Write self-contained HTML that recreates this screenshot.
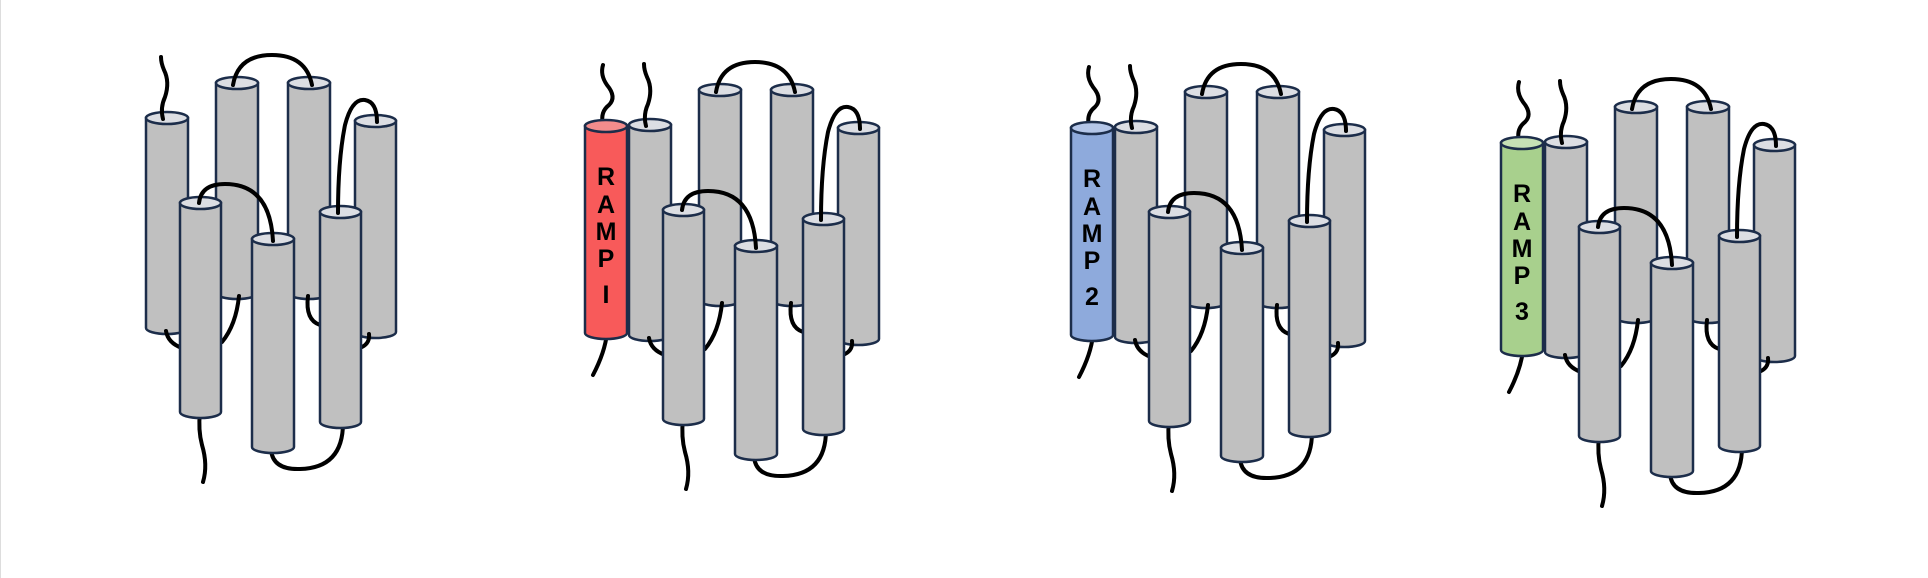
<!DOCTYPE html>
<html><head><meta charset="utf-8"><style>
html,body{margin:0;padding:0;background:#fff;}
svg{display:block;}
text{font-family:"Liberation Sans",sans-serif;font-weight:bold;font-size:25px;fill:#000;text-anchor:middle;}
</style></head><body>
<svg width="1928" height="578" viewBox="0 0 1928 578" xmlns="http://www.w3.org/2000/svg">
<rect x="0" y="0" width="1928" height="578" fill="#fff"/>
<line x1="0.5" y1="0" x2="0.5" y2="578" stroke="#ddd" stroke-width="1"/>
<defs>
<g id="tm">
  <!-- back cylinders -->
  <g stroke="#1c2d4a" stroke-width="2.5">
    <path d="M146,118 L146,328 A21,6 0 0 0 188,328 L188,118 Z" fill="#c0c0c0"/>
    <ellipse cx="167" cy="118" rx="21" ry="6" fill="#dcdee3"/>
    <path d="M216,83 L216,293 A21,6 0 0 0 258,293 L258,83 Z" fill="#c0c0c0"/>
    <ellipse cx="237" cy="83" rx="21" ry="6" fill="#dcdee3"/>
    <path d="M288,83 L288,293 A21,6 0 0 0 330,293 L330,83 Z" fill="#c0c0c0"/>
    <ellipse cx="309" cy="83" rx="21" ry="6" fill="#dcdee3"/>
    <path d="M355,121 L355,332 A20.5,6 0 0 0 396,332 L396,121 Z" fill="#c0c0c0"/>
    <ellipse cx="375.5" cy="121" rx="20.5" ry="6" fill="#dcdee3"/>
  </g>
  <!-- bottom loops (behind front) -->
  <g fill="none" stroke="#000" stroke-width="4" stroke-linecap="round">
    <path d="M166,331 Q168,343 182,348"/>
    <path d="M239,296 Q236,325 222,342"/>
    <path d="M308,296 Q305,320 320,325"/>
    <path d="M369,334 Q370,343 362,347"/>
    <path d="M271,450 Q273,470 300,469 Q343,468 343,423"/>
    <path d="M200,412 Q198,430 202,445 Q208,465 203,482"/>
  </g>
  <!-- front cylinders -->
  <g stroke="#1c2d4a" stroke-width="2.5">
    <path d="M180,203 L180,412 A20.5,6 0 0 0 221,412 L221,203 Z" fill="#c0c0c0"/>
    <ellipse cx="200.5" cy="203" rx="20.5" ry="6" fill="#dcdee3"/>
    <path d="M252,239 L252,447 A21,6 0 0 0 294,447 L294,239 Z" fill="#c0c0c0"/>
    <ellipse cx="273" cy="239" rx="21" ry="6" fill="#dcdee3"/>
    <path d="M320,212 L320,422 A20.5,6 0 0 0 361,422 L361,212 Z" fill="#c0c0c0"/>
    <ellipse cx="340.5" cy="212" rx="20.5" ry="6" fill="#dcdee3"/>
  </g>
  <!-- top loops -->
  <g fill="none" stroke="#000" stroke-width="4" stroke-linecap="round">
    <path d="M163,119 Q160,108 165,97 Q170,82 164,70 Q161,63 161,57"/>
    <path d="M233,85 Q238,55 272,55 Q306,55 312,85"/>
    <path d="M199,203 Q201,184 225,184 Q270,184 273,241"/>
    <path d="M338,213 Q338,160 345,125 Q352,98 365,100 Q377,102 377,122"/>
  </g>
</g>
</defs>

<use href="#tm"/>

<!-- Diagram 2 -->
<g transform="translate(483,7)">
  <path d="M120,117 Q117,105 126,98 Q134,90 124,78 Q117,68 120,58" fill="none" stroke="#000" stroke-width="4" stroke-linecap="round"/>
  <path d="M124,326 Q122,345 110,368" fill="none" stroke="#000" stroke-width="4" stroke-linecap="round"/>
  <g stroke="#1c2d4a" stroke-width="2.5">
    <path d="M102,119 L102,326 A21,6 0 0 0 144,326 L144,119 Z" fill="#f85a5a"/>
    <ellipse cx="123" cy="119" rx="21" ry="6" fill="#f48c8c"/>
  </g>
  <text x="123" y="178">R</text><text x="123" y="206">A</text><text x="123" y="233">M</text><text x="123" y="260">P</text><text x="123" y="296">I</text>
  <use href="#tm"/>
</g>

<!-- Diagram 3 -->
<g transform="translate(969,9)">
  <path d="M120,117 Q117,105 126,98 Q134,90 124,78 Q117,68 120,58" fill="none" stroke="#000" stroke-width="4" stroke-linecap="round"/>
  <path d="M124,326 Q122,345 110,368" fill="none" stroke="#000" stroke-width="4" stroke-linecap="round"/>
  <g stroke="#1c2d4a" stroke-width="2.5">
    <path d="M102,119 L102,326 A21,6 0 0 0 144,326 L144,119 Z" fill="#8eaadc"/>
    <ellipse cx="123" cy="119" rx="21" ry="6" fill="#b4c6e8"/>
  </g>
  <text x="123" y="178">R</text><text x="123" y="206">A</text><text x="123" y="233">M</text><text x="123" y="260">P</text><text x="123" y="296">2</text>
  <use href="#tm"/>
</g>

<!-- Diagram 4 -->
<g transform="translate(1399,24)">
  <path d="M120,117 Q117,105 126,98 Q134,90 124,78 Q117,68 120,58" fill="none" stroke="#000" stroke-width="4" stroke-linecap="round"/>
  <path d="M124,326 Q122,345 110,368" fill="none" stroke="#000" stroke-width="4" stroke-linecap="round"/>
  <g stroke="#1c2d4a" stroke-width="2.5">
    <path d="M102,119 L102,326 A21,6 0 0 0 144,326 L144,119 Z" fill="#a8d08d"/>
    <ellipse cx="123" cy="119" rx="21" ry="6" fill="#c6e1b5"/>
  </g>
  <text x="123" y="178">R</text><text x="123" y="206">A</text><text x="123" y="233">M</text><text x="123" y="260">P</text><text x="123" y="296">3</text>
  <use href="#tm"/>
</g>
</svg>
</body></html>
